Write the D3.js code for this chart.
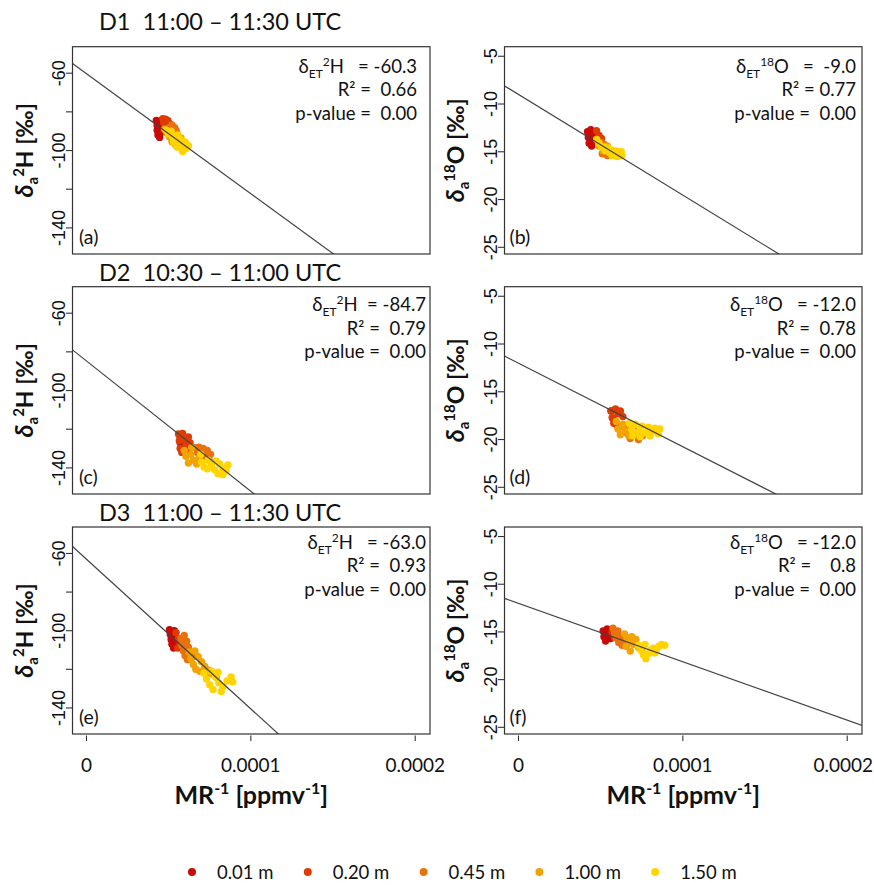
<!DOCTYPE html>
<html>
<head>
<meta charset="utf-8">
<script src="https://cdn.jsdelivr.net/npm/d3@7"></script>
<style>
  body { margin: 0; background: #ffffff; }
  svg text { white-space: pre; }
</style>
</head>
<body>
<svg id="chart" width="874" height="885"></svg>
<script>
// ---- data ---------------------------------------------------------------
const heights = ["0.01 m", "0.20 m", "0.45 m", "1.00 m", "1.50 m"];
const heightColors = ["#c80a0a", "#dc3c05", "#e8720f", "#f2a305", "#ffd400"];

const dayTitles = ["D1  11:00 \u2013 11:30 UTC", "D2  10:30 \u2013 11:00 UTC", "D3  11:00 \u2013 11:30 UTC"];
const panelLetters = ["(a)", "(b)", "(c)", "(d)", "(e)", "(f)"];

const xTicks = [0, 0.0001, 0.0002];
const xTickLabels = ["0", "0.0001", "0.0002"];
const h2Ticks = [-60, -80, -100, -120, -140];
const h2TickLabels = ["-60", "", "-100", "", "-140"];
const o18Ticks = [-5, -10, -15, -20, -25];
const o18TickLabels = ["-5", "-10", "-15", "-20", "-25"];

// Keeling-type regression: delta = intercept + slope * MR^-1
const intercepts = [-60.3, -9.0, -84.7, -12.0, -63.0, -12.0];
const slopes = [-620000, -105400, -674000, -87500, -775000, -61200];
const etValueText = ["   = -60.3", "   =  -9.0", "  = -84.7", "   = -12.0", "   = -63.0", "   = -12.0"];
const r2Text = ["R\u00b2 =  0.66", "R\u00b2 = 0.77", "R\u00b2 =  0.79", "R\u00b2 =  0.78", "R\u00b2 =  0.93", "R\u00b2 =    0.8"];
const pText = ["p-value =  0.00", "p-value =  0.00", "p-value =  0.00", "p-value =  0.00", "p-value =  0.00", "p-value =  0.00"];

// Observations per panel, one list per inlet height: [MR^-1 (1e-5 ppmv^-1), delta (permil)]
const obsA = [
  [[4.25,-84.5],[4.3,-87],[4.3,-89.5],[4.35,-92],[4.45,-93.2],[4.45,-85.5],[4.5,-88],[4.55,-90.5],[4.6,-84],[4.65,-86.5]],
  [[4.65,-83.5],[4.8,-83.8],[4.95,-84.5],[5.05,-86],[4.85,-86],[4.7,-85.5],[5.0,-87.5]],
  [[5.05,-88],[5.2,-86.8],[5.35,-88],[5.45,-89.5],[5.3,-90.5],[5.15,-89.5],[5.5,-91]],
  [[4.75,-89],[4.9,-91],[5.05,-93],[5.2,-95.5],[5.4,-96.8],[5.6,-95],[5.75,-93.5],[5.3,-92]],
  [[4.85,-89.5],[5.0,-91.5],[5.15,-90],[5.25,-93],[5.4,-94.5],[5.55,-92],[5.6,-96.5],[5.75,-98.5],[5.9,-97],[6.05,-99],[6.2,-97.5],[5.5,-98.2],[5.85,-100.5],[5.3,-95.5],[6.0,-95.5],[5.7,-94]]
];
const obsB = [
  [[4.2,-12.9],[4.25,-13.5],[4.3,-14.1],[4.45,-14.4],[4.5,-13.2],[4.55,-13.8],[4.4,-12.7]],
  [[4.75,-12.8],[4.9,-13.3],[5.05,-13.6],[4.85,-13.9],[5.1,-14.2]],
  [[5.0,-14.0],[5.2,-14.2],[5.3,-14.6],[5.1,-15.2],[5.4,-15.4],[5.5,-15.0]],
  [[4.9,-14.4],[5.15,-14.9],[5.4,-14.4],[5.7,-15.3],[5.9,-15.0]],
  [[4.75,-13.7],[4.9,-14.1],[5.05,-14.5],[5.2,-14.5],[5.3,-14.9],[5.45,-14.6],[5.55,-15.1],[5.65,-14.8],[5.8,-15.2],[5.95,-14.9],[6.1,-15.3],[6.25,-15.0],[6.3,-15.4],[5.7,-15.4],[6.0,-15.5]]
];
const obsC = [
  [[5.65,-123],[5.7,-127],[5.8,-129.5],[5.9,-124.5]],
  [[5.6,-122.5],[5.65,-126],[5.7,-130],[5.85,-122.2],[5.95,-125],[6.05,-128],[6.2,-124],[6.3,-127],[5.8,-132],[6.1,-131]],
  [[6.6,-129.5],[6.85,-129.3],[7.1,-130],[7.35,-131],[7.55,-133],[7.45,-135.5],[7.2,-134],[6.95,-133],[6.75,-132]],
  [[5.95,-131],[6.05,-134],[6.2,-137.5],[6.35,-133],[6.5,-136],[6.7,-138],[6.85,-135],[6.4,-129.5]],
  [[6.95,-133],[7.0,-137],[7.15,-139.5],[7.4,-136],[7.6,-138.5],[7.8,-141],[7.9,-136.5],[8.1,-138],[8.3,-140.5],[8.5,-141.5],[8.6,-138.5],[8.3,-143.5],[8.0,-143],[7.35,-140.5]]
];
const obsD = [
  [[5.65,-17.0],[5.75,-17.8],[5.9,-18.3]],
  [[5.62,-17.0],[5.7,-17.7],[5.8,-18.3],[5.9,-16.8],[6.05,-17.3],[6.2,-17.0],[6.35,-17.6],[6.0,-18.5]],
  [[6.3,-18.6],[6.55,-19.3],[6.8,-19.9],[7.05,-19.5],[7.3,-20.0],[7.55,-19.6],[6.6,-18.5],[7.0,-18.8]],
  [[5.95,-18.1],[6.05,-18.9],[6.2,-19.5],[6.35,-18.4],[6.5,-19.1],[6.7,-19.6],[6.8,-18.5]],
  [[6.75,-18.3],[6.9,-19.0],[7.1,-18.4],[7.3,-19.2],[7.5,-18.6],[7.7,-19.3],[7.9,-18.7],[8.1,-19.2],[8.3,-18.8],[8.5,-19.4],[8.6,-18.9],[7.4,-19.7],[8.0,-19.6],[6.95,-19.6]]
];
const obsE = [
  [[5.05,-99.5],[5.1,-102],[5.15,-104.5],[5.2,-107],[5.3,-109],[5.35,-100],[5.4,-103],[5.45,-105.5],[5.5,-108]],
  [[5.45,-101],[5.6,-104],[5.7,-107],[5.55,-109]],
  [[5.75,-104],[5.8,-107.5],[5.9,-110.5],[6.0,-113],[6.15,-115],[5.95,-102.5],[6.1,-105.5],[6.2,-108.5],[6.35,-111.5],[6.5,-113.5]],
  [[6.25,-111],[6.35,-114.5],[6.5,-117.5],[6.65,-120],[6.6,-110.5],[6.8,-113.5],[7.0,-116],[7.2,-118.5],[7.45,-120.5],[7.7,-122.5],[7.9,-124],[6.9,-121],[7.3,-123]],
  [[7.15,-122],[7.3,-125],[7.5,-128],[7.7,-130.5],[7.6,-121],[7.85,-124],[8.05,-127],[8.3,-129],[8.55,-126],[8.8,-124],[8.9,-126.5],[8.2,-131.5],[8.0,-121.5]]
];
const obsF = [
  [[5.15,-14.9],[5.2,-15.5],[5.3,-15.95],[5.4,-14.7],[5.5,-15.3],[5.6,-15.7]],
  [[5.7,-15.0],[5.85,-15.6]],
  [[5.75,-14.6],[5.85,-15.1],[5.95,-15.6],[6.1,-16.1],[6.3,-16.4],[6.05,-14.9],[6.25,-15.4],[6.45,-15.7],[6.6,-16.3]],
  [[6.45,-15.2],[6.6,-15.6],[6.75,-16.0],[6.55,-16.5],[6.8,-17.0],[7.0,-16.3],[7.15,-15.8],[7.3,-16.6],[7.5,-16.9],[7.6,-17.3],[6.9,-15.5]],
  [[7.3,-16.4],[7.45,-16.9],[7.6,-17.4],[7.75,-17.8],[7.9,-17.3],[8.05,-16.9],[8.2,-16.7],[8.4,-16.9],[8.55,-16.5],[8.7,-16.3],[8.9,-16.4],[8.3,-17.2],[7.7,-16.3]]
];
const observations = [obsA, obsB, obsC, obsD, obsE, obsF];

// ---- layout -------------------------------------------------------------
const W = 874;
const colX = [[72.5, 430], [504.5, 862]];
const rowY = [[46.7, 254], [286.7, 494], [527, 734]];
const titleBaseline = [30, 281, 521];
const annotOffsets = [[26, 49.5, 73], [24.5, 48, 71.5], [22, 45, 69]];
const annotRight = [417, 856, 426, 856, 426, 856];
const xDomain = [-0.0000085, 0.000209];
const yDomains = [[-153.5, -46.3], [-25.7, -4.0]];
const isotope = [["2", "H"], ["18", "O"]];

const UI = "Lato, 'Open Sans', sans-serif";
const AX = "'Liberation Sans', Arial, sans-serif";
const INK = "#333333";

const svg = d3.select("#chart");
const defs = svg.append("defs");

observations.forEach((series, i) => {
  const row = Math.floor(i / 2), col = i % 2;
  const [x0, x1] = colX[col];
  const [y0, y1] = rowY[row];
  const x = d3.scaleLinear().domain(xDomain).range([x0, x1]);
  const y = d3.scaleLinear().domain(yDomains[col]).range([y1, y0]);
  const g = svg.append("g");

  defs.append("clipPath").attr("id", "clip" + i)
    .append("rect").attr("x", x0).attr("y", y0).attr("width", x1 - x0).attr("height", y1 - y0);
  const plot = g.append("g").attr("clip-path", `url(#clip${i})`);

  // measurement points, lowest inlet first
  series.forEach((pts, s) => {
    plot.selectAll(null).data(pts).enter().append("circle")
      .attr("cx", d => x(d[0] * 1e-5))
      .attr("cy", d => y(d[1]))
      .attr("r", 3.7)
      .attr("fill", heightColors[s]);
  });

  // regression line
  const line = d3.line().x(d => x(d)).y(d => y(intercepts[i] + slopes[i] * d));
  plot.append("path").datum(xDomain).attr("d", line)
    .attr("fill", "none").attr("stroke", "#444").attr("stroke-width", 1.2);

  // frame
  g.append("rect").attr("x", x0).attr("y", y0).attr("width", x1 - x0).attr("height", y1 - y0)
    .attr("fill", "none").attr("stroke", INK).attr("stroke-width", 1.2);

  // y axis
  const ticks = col === 0 ? h2Ticks : o18Ticks;
  const labels = col === 0 ? h2TickLabels : o18TickLabels;
  ticks.forEach((t, k) => {
    g.append("line").attr("x1", x0 - 6.5).attr("x2", x0).attr("y1", y(t)).attr("y2", y(t))
      .attr("stroke", INK).attr("stroke-width", 1.1);
    if (labels[k]) {
      g.append("text").attr("transform", `translate(${x0 - 8},${y(t)}) rotate(-90)`)
        .attr("text-anchor", "middle").attr("font-family", AX).attr("font-size", 18)
        .attr("fill", "#111").text(labels[k]);
    }
  });

  // y title
  const yt = g.append("text")
    .attr("transform", `translate(${col === 0 ? 33 : 464},${(y0 + y1) / 2}) rotate(-90)`)
    .attr("text-anchor", "middle").attr("font-family", UI).attr("font-weight", "bold")
    .attr("font-size", 23).attr("fill", "#111");
  yt.append("tspan").attr("font-style", "italic").attr("font-size", 25).text("\u03b4");
  yt.append("tspan").attr("font-size", 15).attr("dy", 5).text("a");
  yt.append("tspan").attr("font-size", 15).attr("dy", -14).text(isotope[col][0]);
  yt.append("tspan").attr("dy", 9).text(isotope[col][1] + " [\u2030]");

  // x axis on the bottom row only
  if (row === 2) {
    xTicks.forEach((t, k) => {
      g.append("line").attr("x1", x(t)).attr("x2", x(t)).attr("y1", y1 + 1.5).attr("y2", y1 + 7)
        .attr("stroke", INK).attr("stroke-width", 1.1);
      const lbl = g.append("text").attr("x", x(t)).attr("y", y1 + 38).attr("text-anchor", "middle")
        .attr("font-family", UI).attr("font-size", 19).attr("fill", "#111").text(xTickLabels[k]);
      // keep the outermost label inside the page
      const half = lbl.node().getComputedTextLength() / 2;
      if (x(t) + half > W - 1) lbl.attr("x", W - 1 - half);
    });
    const xt = g.append("text").attr("x", (x0 + x1) / 2).attr("y", y1 + 70)
      .attr("text-anchor", "middle").attr("font-family", UI).attr("font-weight", "bold")
      .attr("font-size", 25).attr("fill", "#111");
    xt.append("tspan").text("MR");
    xt.append("tspan").attr("font-size", 16).attr("dy", -10).text("-1");
    xt.append("tspan").attr("dy", 10).text(" [ppmv");
    xt.append("tspan").attr("font-size", 16).attr("dy", -10).text("-1");
    xt.append("tspan").attr("dy", 10).text("]");
  }

  // regression statistics
  const ax = annotRight[i];
  const off = annotOffsets[row];
  const t1 = g.append("text").attr("x", ax).attr("y", y0 + off[0]).attr("text-anchor", "end")
    .attr("font-family", UI).attr("font-size", 18.5).attr("fill", "#111");
  t1.append("tspan").text("\u03b4");
  t1.append("tspan").attr("font-size", 12).attr("dy", 5).text("ET");
  t1.append("tspan").attr("font-size", 12).attr("dy", -12).text(isotope[col][0]);
  t1.append("tspan").attr("dy", 7).text(isotope[col][1] + etValueText[i]);
  g.append("text").attr("x", ax).attr("y", y0 + off[1]).attr("text-anchor", "end")
    .attr("font-family", UI).attr("font-size", 18.5).attr("fill", "#111").text(r2Text[i]);
  g.append("text").attr("x", ax).attr("y", y0 + off[2]).attr("text-anchor", "end")
    .attr("font-family", UI).attr("font-size", 18.5).attr("fill", "#111").text(pText[i]);

  // panel letter
  g.append("text").attr("x", x0 + (col === 0 ? 6.5 : 5)).attr("y", y1 - 10)
    .attr("font-family", UI).attr("font-size", 19.5).attr("fill", "#111").text(panelLetters[i]);
});

// day titles
dayTitles.forEach((t, r) => {
  svg.append("text").attr("x", 99).attr("y", titleBaseline[r])
    .attr("font-family", UI).attr("font-size", 23.5).attr("fill", "#111").text(t);
});

// legend
const legend = svg.append("g");
heights.forEach((h, k) => {
  const lx = 192 + k * 115.8;
  legend.append("circle").attr("cx", lx).attr("cy", 872).attr("r", 4).attr("fill", heightColors[k]);
  legend.append("text").attr("x", lx + 25).attr("y", 878.5)
    .attr("font-family", UI).attr("font-size", 18.5).attr("fill", "#111").text(h);
});
</script>
</body>
</html>
